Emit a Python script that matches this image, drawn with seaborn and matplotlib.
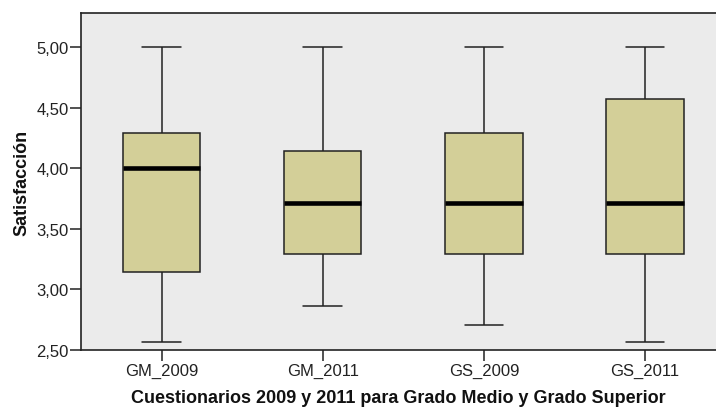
import pandas as pd
import matplotlib.pyplot as plt
import seaborn as sns
from matplotlib.ticker import FuncFormatter

# --- Datos (mínimo, Q1, mediana, Q3, máximo) ---
grupos = ['GM_2009', 'GM_2011', 'GS_2009', 'GS_2011']
gm_2009 = [2.57, 3.14, 4.00, 4.29, 5.00]
gm_2011 = [2.86, 3.29, 3.71, 4.14, 5.00]
gs_2009 = [2.71, 3.29, 3.71, 4.29, 5.00]
gs_2011 = [2.57, 3.29, 3.71, 4.57, 5.00]

df = pd.DataFrame({
    'Grupo': sum([[g] * 5 for g in grupos], []),
    'Satisfaccion': gm_2009 + gm_2011 + gs_2009 + gs_2011,
})

sns.set_theme(style="white")
plt.rcParams['font.family'] = ['Liberation Sans', 'DejaVu Sans']

fig = plt.figure(figsize=(7.16, 4.10), dpi=100)
ax = fig.add_axes([81 / 716, 1 - 351 / 410, 635 / 716, 337 / 410])
ax.set_facecolor('#EBEBEB')

linea = dict(color='#222222', linewidth=1.1)
sns.boxplot(data=df, x='Grupo', y='Satisfaccion', ax=ax, order=grupos,
            color='#D3CF98', saturation=1, width=0.48, whis=(0, 100),
            linecolor='#222222', linewidth=1.1,
            boxprops=dict(edgecolor='#222222', linewidth=1.1),
            whiskerprops=linea, capprops=linea,
            medianprops=dict(color='black', linewidth=3.3))

ax.set_xlim(-0.5, 3.44)
ax.set_ylim(2.5, 5.28)
ax.set_yticks([2.5, 3.0, 3.5, 4.0, 4.5, 5.0])
ax.yaxis.set_major_formatter(FuncFormatter(lambda y, _: f'{y:.2f}'.replace('.', ',')))

for lado in ['left', 'bottom', 'top']:
    ax.spines[lado].set_color('#222222')
    ax.spines[lado].set_linewidth(1.2)
ax.spines['right'].set_visible(False)

ax.tick_params(axis='both', direction='out', length=8, width=1.1, color='#222222',
               labelsize=12, labelcolor='#222222', left=True, bottom=True, pad=1)

ax.set_ylabel('Satisfacción', fontsize=13, fontweight='bold', color='#111111', labelpad=4)
ax.set_xlabel('Cuestionarios 2009 y 2011 para Grado Medio y Grado Superior',
              fontsize=13, fontweight='bold', color='#111111', labelpad=8)

plt.savefig('out.png', dpi=100)
